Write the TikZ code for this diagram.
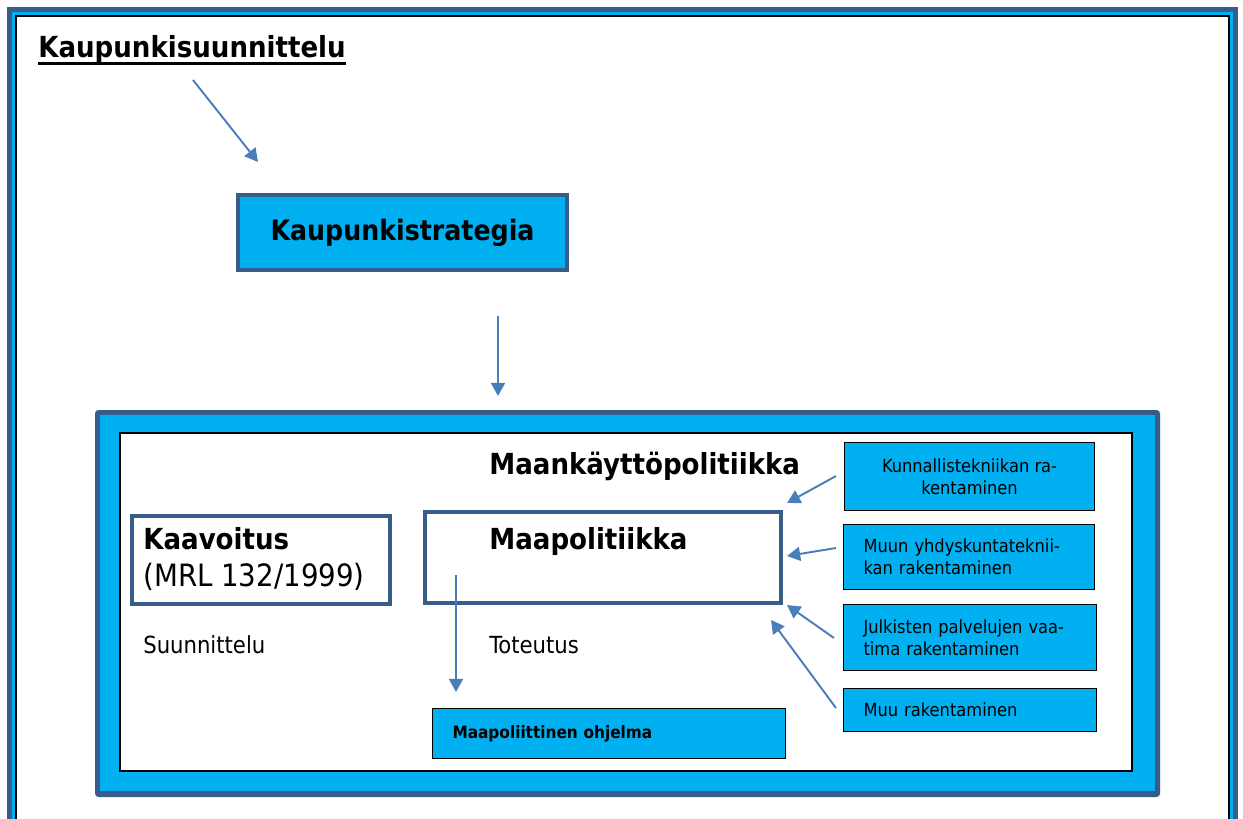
\documentclass[tikz,border=0pt]{standalone}
\usepackage{fontspec}
\setmainfont{DejaVu Sans Condensed}
\usetikzlibrary{arrows.meta}
\definecolor{boxcyan}{HTML}{00B0F0}
\definecolor{frameblue}{HTML}{385D8A}
\definecolor{arrowblue}{HTML}{4A7EBB}
\tikzset{
  flow/.style={arrowblue,line width=1.1pt,-{Triangle[length=7.5pt,width=8pt]}},
  headbox/.style={draw=frameblue,line width=2.3pt,anchor=north west,inner sep=0pt},
  sidebox/.style={draw=black,fill=boxcyan,line width=0.6pt,anchor=north west,
    inner sep=0pt,font=\fontsize{10.3}{12.3}\selectfont},
  bigtext/.style={font=\bfseries\fontsize{16.5}{19}\selectfont},
}
\begin{document}
\begin{tikzpicture}[x=0.02cm,y=-0.02cm]
  \useasboundingbox (0,0) rectangle (1243,818);
  %% outer frame
  \fill[frameblue] (7,7) rectangle (1238,840);
  \fill[boxcyan] (12,12) rectangle (1233,840);
  \draw[fill=white,line width=0.6pt] (16,16) rectangle (1229,850);
  %% title
  \node[bigtext,anchor=base west,inner sep=0pt] (title) at (38,57)
    {Kaupunkisuunnittelu};
  \draw[line width=1.7pt] ([yshift=-3.5pt]title.base west) -- ([yshift=-3.5pt]title.base east);
  \node[headbox,fill=boxcyan,minimum width=329*0.02cm,minimum height=75*0.02cm,
    bigtext,font=\bfseries\fontsize{16}{19}\selectfont] (strategia) at (236,193) {Kaupunkistrategia};
  \coordinate (t1) at (193,80);
  \coordinate (t2) at (258,162);
  \draw[flow] (t1) -- (t2);
  \coordinate (s1) at (498,316);
  \coordinate (s2) at (498,396);
  \draw[flow] (s1) -- (s2);
  %% land use frame
  \fill[frameblue,rounded corners=2] (95,410) rectangle (1160,797);
  \fill[boxcyan] (100,415) rectangle (1155,791);
  \draw[fill=white,line width=0.6pt] (120,433) rectangle (1132,771);
  \node[bigtext,anchor=base west,inner sep=0pt] (mkp) at (489,474)
    {Maankäyttöpolitiikka};
  %% planning and land policy
  \node[headbox,fill=white,minimum width=258*0.02cm,minimum height=88*0.02cm]
    (kaavoitus) at (130,514) {};
  \node[bigtext,anchor=base west,inner sep=0pt] (kaavtext) at (143,549) {Kaavoitus};
  \node[anchor=base west,inner sep=0pt,font=\fontsize{17.5}{20}\selectfont]
    (mrl) at (143,586) {(MRL 132/1999)};
  \node[headbox,fill=white,minimum width=356*0.02cm,minimum height=91*0.02cm]
    (maapol) at (423,510) {};
  \node[bigtext,anchor=base west,inner sep=0pt] (maaptext) at (489,549) {Maapolitiikka};
  \node[anchor=base west,inner sep=0pt,font=\fontsize{13.4}{16}\selectfont]
    (suun) at (143,653) {Suunnittelu};
  \node[anchor=base west,inner sep=0pt,font=\fontsize{13.4}{16}\selectfont]
    (tot) at (489,653) {Toteutus};
  \node[sidebox,minimum width=353*0.02cm,minimum height=50*0.02cm,align=left,
    text width=313*0.02cm,inner xsep=20*0.02cm,font=\bfseries\fontsize{9.7}{11}\selectfont]
    (ohjelma) at (432,708) {Maapoliittinen ohjelma};
  \coordinate (p1) at (456,575);
  \coordinate (p2) at (456,692);
  \draw[flow] (p1) -- (p2);
  %% building
  \node[sidebox,minimum width=250*0.02cm,minimum height=68*0.02cm,align=center]
    (kunn) at (844,442) {Kunnallistekniikan ra-\\kentaminen};
  \node[sidebox,minimum height=65*0.02cm,align=left,text width=211*0.02cm,
    inner xsep=20*0.02cm] (muun) at (843,524) {Muun yhdyskuntateknii-\\kan rakentaminen};
  \node[sidebox,minimum height=66*0.02cm,align=left,text width=213*0.02cm,
    inner xsep=20*0.02cm] (julk) at (843,604) {Julkisten palvelujen vaa-\\tima rakentaminen};
  \node[sidebox,minimum height=43*0.02cm,align=left,text width=213*0.02cm,
    inner xsep=20*0.02cm] (muu) at (843,688) {Muu rakentaminen};
  \coordinate (k1) at (836,476);
  \coordinate (m1) at (787,503);
  \coordinate (k2) at (836,548);
  \coordinate (m2) at (787,556);
  \coordinate (k3) at (834,638);
  \coordinate (m3) at (787,605);
  \coordinate (k4) at (836,708);
  \coordinate (m4) at (771,620);
  \draw[flow] (k1) -- (m1);
  \draw[flow] (k2) -- (m2);
  \draw[flow] (k3) -- (m3);
  \draw[flow] (k4) -- (m4);
\end{tikzpicture}
\end{document}
